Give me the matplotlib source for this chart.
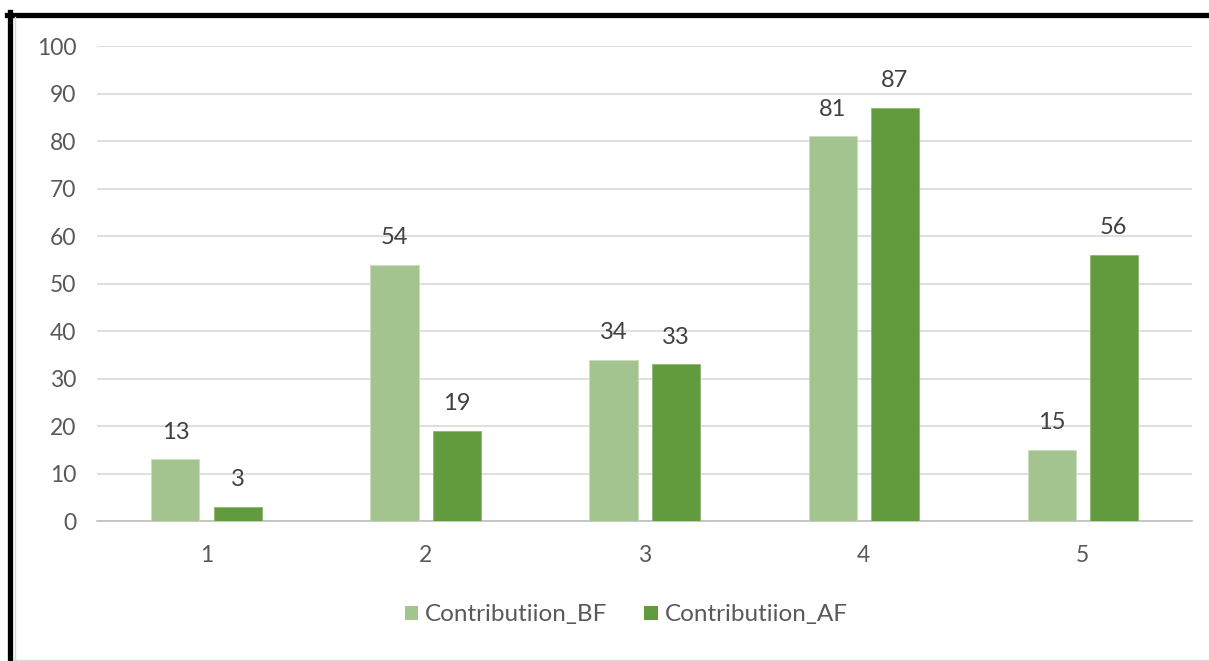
import numpy as np
import matplotlib
matplotlib.use("Agg")
import matplotlib.pyplot as plt
from matplotlib.lines import Line2D
from matplotlib.patches import Patch

# datos
categorias = ["1", "2", "3", "4", "5"]
contrib_bf = [13, 54, 34, 81, 15]
contrib_af = [3, 19, 33, 87, 56]
nombres = ["Contributiion_BF", "Contributiion_AF"]

color_bf = "#A3C48F"
color_af = "#629A3E"
gris_txt = "#595959"

plt.rcParams['font.family'] = ['Lato', 'DejaVu Sans']

fig = plt.figure(figsize=(12.09, 6.61), dpi=100)
ax = fig.add_axes([0.0802, 0.2118, 0.906, 0.7186])

x = np.arange(1, len(categorias) + 1)
ancho = 0.22
desp = 0.142

b1 = ax.bar(x - desp, contrib_bf, ancho, color=color_bf, edgecolor="#C9DDBE", linewidth=0.6, zorder=3)
b2 = ax.bar(x + desp, contrib_af, ancho, color=color_af, edgecolor="#8DB775", linewidth=0.6, zorder=3)

ax.bar_label(b1, padding=12, fontsize=17, color="#404040")
ax.bar_label(b2, padding=12, fontsize=17, color="#404040")

ax.set_xlim(0.5, 5.5)
ax.set_ylim(0, 100)
ax.set_yticks(np.arange(0, 101, 10))
ax.set_xticks(x)
ax.set_xticklabels(categorias)
ax.tick_params(axis='both', length=0, labelsize=16.5, colors=gris_txt)
ax.tick_params(axis='y', pad=15)
ax.tick_params(axis='x', pad=17)

ax.grid(axis='y', color="#D9D9D9", linewidth=1.2, zorder=0)
for s in ["top", "right", "left"]:
    ax.spines[s].set_visible(False)
ax.spines["bottom"].set_color("#BFBFBF")
ax.spines["bottom"].set_linewidth(1.2)

# leyenda
handles = [Patch(facecolor=color_bf), Patch(facecolor=color_af)]
fig.legend(handles, nombres, loc="center", bbox_to_anchor=(0.518, 1 - 615 / 661),
           ncol=2, frameon=False, fontsize=17.5, handlelength=0.55, handleheight=0.55,
           handletextpad=0.3, columnspacing=1.5, labelcolor=gris_txt)

# marco negro (arriba e izquierda) y linea gris interior
W, H = 1209, 661
fig.add_artist(Line2D([7 / W, 1], [1 - 14.5 / H, 1 - 14.5 / H], color="black", linewidth=3.8))
fig.add_artist(Line2D([9.5 / W, 9.5 / W], [0, 1 - 12 / H], color="black", linewidth=3.8))
fig.add_artist(Line2D([14.5 / W, 14.5 / W], [0, 1 - 17 / H], color="#D9D9D9", linewidth=1))
fig.add_artist(Line2D([14 / W, 1], [1 - 659.5 / H, 1 - 659.5 / H], color="#D9D9D9", linewidth=1))

fig.savefig("out.png", dpi=100)
